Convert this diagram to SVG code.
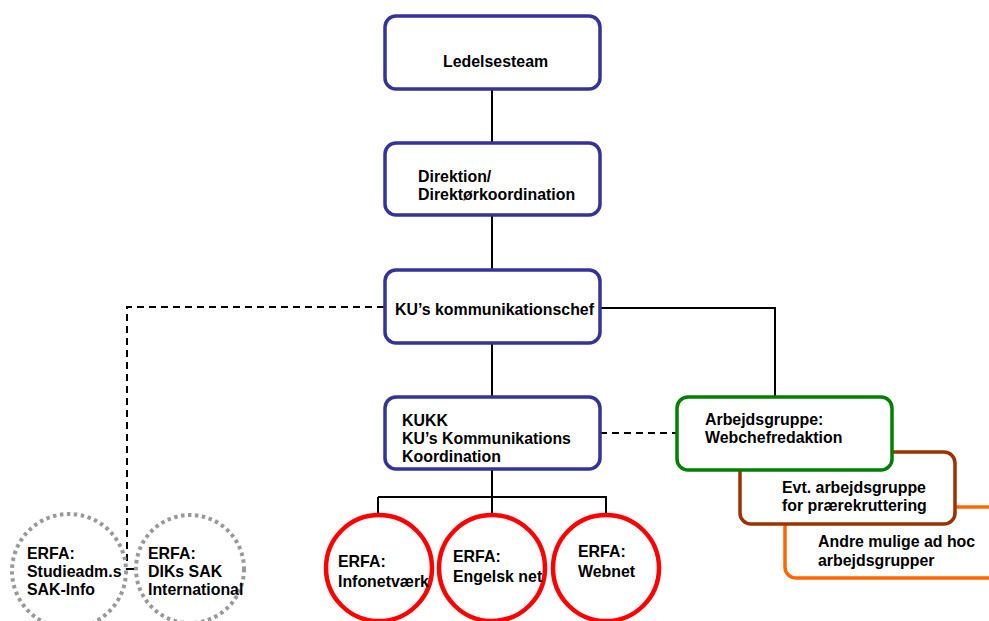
<svg xmlns="http://www.w3.org/2000/svg" width="989" height="621" viewBox="0 0 989 621">
<style>
text{font-family:"Liberation Sans",Arial,sans-serif;font-weight:bold;font-size:15.9px;fill:#000}
.blue{fill:#fff;stroke:#333399;stroke-width:3.5}
.red{fill:#fff;stroke:#ff0000;stroke-width:4.5}
.gray{fill:#fff;stroke:#999999;stroke-width:4;stroke-dasharray:3.5 3.5}
.ln{fill:none;stroke:#000;stroke-width:2}
.dash{fill:none;stroke:#000;stroke-width:2;stroke-dasharray:7 5}
</style>
<rect width="989" height="621" fill="#fff"/>
<g id="connectors">
<path class="ln" d="M492 89V143M492 215V270M492 343V397M492 469V497M378 497H607M378 497V513M606 497V513M492 497V513"/>
<path class="ln" d="M600 308H775V398"/>
<path class="dash" d="M384 307H127V566"/>
<path class="dash" d="M600 433H678"/>
<path class="ln" d="M120 569H137"/>
</g>
<g id="ledelsesteam"><rect class="blue" x="385" y="16" width="215" height="73" rx="11"/><text x="443" y="67">Ledelsesteam</text></g>
<g id="direktion"><rect class="blue" x="385" y="143" width="215" height="72" rx="11"/><text x="418" y="182">Direktion/</text><text x="418" y="200">Direktørkoordination</text></g>
<g id="kommunikationschef"><rect class="blue" x="385" y="270" width="215" height="73" rx="11"/><text x="395" y="315">KU’s kommunikationschef</text></g>
<g id="kukk"><rect class="blue" x="385" y="397" width="215" height="72" rx="11"/><text x="402" y="426">KUKK</text><text x="402" y="444">KU’s Kommunikations</text><text x="402" y="462">Koordination</text></g>
<g id="andre"><rect x="785" y="507" width="230" height="71" rx="11" fill="#fff" stroke="#ff6600" stroke-width="3.5"/><text x="818" y="547">Andre mulige ad hoc</text><text x="818" y="566">arbejdsgrupper</text></g>
<g id="praerekruttering"><rect x="740" y="452" width="215" height="72" rx="11" fill="#fff" stroke="#993300" stroke-width="3.5"/><text x="782" y="493">Evt. arbejdsgruppe</text><text x="782" y="511">for prærekruttering</text></g>
<g id="webchefredaktion"><rect x="677" y="397" width="215" height="73" rx="11" fill="#fff" stroke="#008000" stroke-width="3.5"/><text x="705" y="425">Arbejdsgruppe:</text><text x="705" y="443">Webchefredaktion</text></g>
<g id="infonetvaerk"><circle class="red" cx="379" cy="568" r="53"/><text x="338" y="567">ERFA:</text><text x="338" y="587">Infonetværk</text></g>
<g id="engelsk"><circle class="red" cx="492" cy="568" r="53"/><text x="453" y="562">ERFA:</text><text x="453" y="582">Engelsk net</text></g>
<g id="webnet"><circle class="red" cx="606" cy="568" r="53"/><text x="578" y="557">ERFA:</text><text x="578" y="577">Webnet</text></g>
<g id="studieadm"><circle class="gray" cx="69" cy="571" r="57"/><text x="27" y="559">ERFA:</text><text x="27" y="577">Studieadm.s</text><text x="27" y="595">SAK-Info</text></g>
<g id="diks"><circle class="gray" cx="190" cy="569" r="54"/><text x="148" y="559">ERFA:</text><text x="148" y="577">DIKs SAK</text><text x="148" y="595">International</text></g>
</svg>
